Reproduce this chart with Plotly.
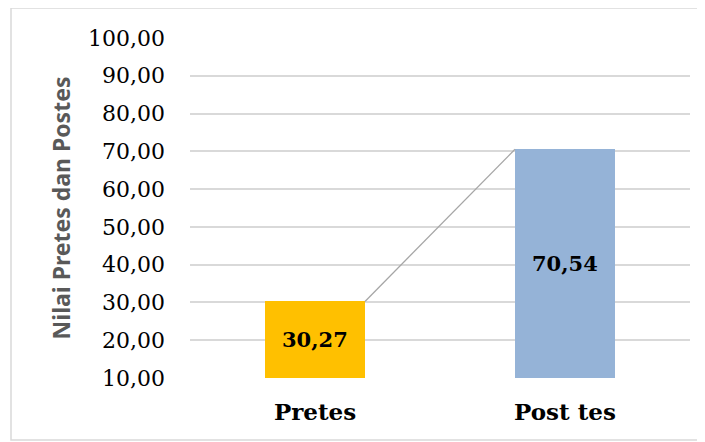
import plotly.graph_objects as go

categories = ["Pretes", "Post tes"]
values = [30.27, 70.54]
colors = ["#FFC000", "#95B3D7"]
y_min, y_max, y_step = 10, 100, 10

bar_width = 0.4
xs = list(range(len(categories)))

fig = go.Figure()
fig.add_trace(go.Bar(
    x=xs, y=values, width=bar_width,
    marker=dict(color=colors, line=dict(width=0)),
    hoverinfo="skip", showlegend=False,
))
# series line joining bar tops (Excel "series lines")
fig.add_trace(go.Scatter(
    x=[xs[0] + bar_width / 2, xs[1] - bar_width / 2],
    y=[values[0], values[1]],
    mode="lines", line=dict(color="#A6A6A6", width=1.3),
    hoverinfo="skip", showlegend=False,
))

for i, v in enumerate(values):
    fig.add_annotation(
        x=xs[i], y=(v + y_min) / 2, text="<b>" + f"{v:.2f}".replace(".", ",") + "</b>",
        showarrow=False, font=dict(family="DejaVu Serif", size=21, color="#000000"),
    )

# page body has an 8px margin, so the figure is sized/offset to compensate
fig.update_layout(
    width=697, height=434,
    margin=dict(l=182, r=15, t=30, b=64),
    paper_bgcolor="white", plot_bgcolor="white",
    separators=",.",
    bargap=0,
)
fig.update_xaxes(
    range=[-0.5, 1.5], tickvals=xs,
    ticktext=["<b>" + c + "</b>" for c in categories],
    tickfont=dict(family="DejaVu Serif", size=23, color="#000000"),
    showgrid=False, zeroline=False, showline=False, ticks="",
    ticklabelstandoff=18, automargin=False,
)
fig.update_yaxes(
    range=[y_min, y_max], dtick=y_step, tick0=0, tickformat=".2f",
    tickfont=dict(family="DejaVu Serif", size=22, color="#000000"),
    showgrid=True, gridcolor="#D9D9D9", gridwidth=1.5, zeroline=False,
    showline=False, ticks="", ticklen=0, ticklabelstandoff=24, automargin=False,
    title=dict(text="<b>Nilai Pretes dan Postes</b>",
               font=dict(family="Noto Sans", size=23, color="#595959"), standoff=10),
)
fig.add_shape(type="rect", xref="paper", yref="paper",
              x0=-0.358, x1=1.026, y0=-0.182, y1=1.088,
              line=dict(color="#D9D9D9", width=1.5), fillcolor="rgba(0,0,0,0)")
fig.write_html("out.html")
